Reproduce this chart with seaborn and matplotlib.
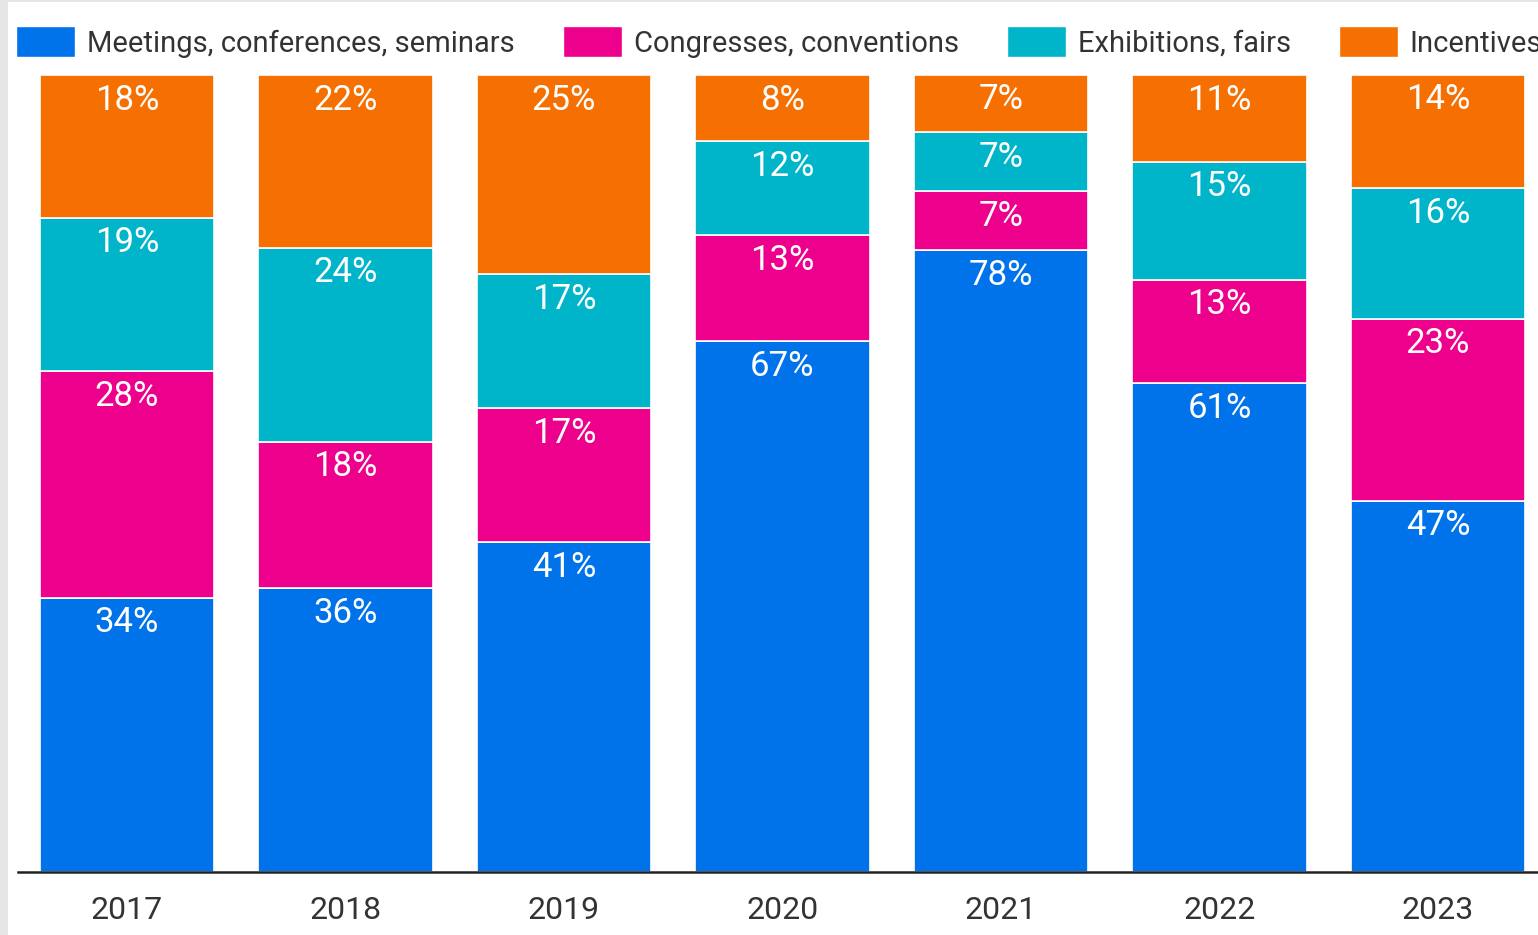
import matplotlib
matplotlib.use("Agg")
import matplotlib.pyplot as plt
from matplotlib.patches import Rectangle, Patch
import numpy as np
import pandas as pd
import seaborn as sns

years = ["2017", "2018", "2019", "2020", "2021", "2022", "2023"]
# shares of events per year, in percent
meetings = [34.4, 35.6, 41.4, 66.6, 78.0, 61.3, 46.6]
congresses = [28.4, 18.4, 16.8, 13.3, 7.4, 13.0, 22.8]
exhibitions = [19.3, 24.3, 16.8, 11.8, 7.4, 14.8, 16.4]
incentives = [17.9, 21.7, 25.0, 8.3, 7.2, 10.9, 14.2]

series_names = ["Meetings, conferences, seminars", "Congresses, conventions",
                "Exhibitions, fairs", "Incentives"]
series_values = [meetings, congresses, exhibitions, incentives]
series_colors = ["#0073EA", "#EC008C", "#00B5C9", "#F57000"]

sns.set_theme(style="white")
plt.rcParams["font.family"] = ["Roboto", "DejaVu Sans"]

DPI = 100
fig = plt.figure(figsize=(15.38, 9.35), dpi=DPI)
fig.patch.set_facecolor("white")

# light grey frame along the left and top edges
fig.patches.append(Rectangle((0, 0), 8 / 1538, 1, transform=fig.transFigure,
                             facecolor="#E6E6E6", edgecolor="none", zorder=0))
fig.patches.append(Rectangle((0, 1 - 2 / 935), 1, 2 / 935, transform=fig.transFigure,
                             facecolor="#E6E6E6", edgecolor="none", zorder=0))

left_px, right_px, top_px, bottom_px = 17.75, 17.75 + 7 * 218.5, 75, 872
ax = fig.add_axes([left_px / 1538, 1 - bottom_px / 935,
                   (right_px - left_px) / 1538, (bottom_px - top_px) / 935])
ax.set_facecolor("white")

df = pd.DataFrame({"year": years})
bottom = np.zeros(len(years))
for name, vals, color in zip(series_names, series_values, series_colors):
    share = np.array(vals, dtype=float)
    df["share"] = share
    sns.barplot(data=df, x="year", y="share", bottom=bottom, color=color,
                width=0.8, edgecolor="white", linewidth=1.2, ax=ax,
                saturation=1, errorbar=None)
    top = bottom + share
    for i, (v, t) in enumerate(zip(share, top)):
        ax.annotate(f"{v:.0f}%", xy=(i, t), xytext=(0, -25 * 72 / DPI),
                    textcoords="offset points", ha="center", va="center",
                    color="white", fontsize=25, zorder=5)
    bottom = top

ax.set_xlim(-0.5, 6.5)
ax.set_ylim(0, 100)
ax.set_xlabel("")
ax.set_ylabel("")
ax.set_yticks([])
for side in ["left", "right", "top"]:
    ax.spines[side].set_visible(False)
ax.spines["bottom"].set_color("#222222")
ax.spines["bottom"].set_linewidth(1.8)
ax.tick_params(axis="x", length=0, pad=17, labelsize=23, labelcolor="#333333")

handles = [Patch(facecolor=c, edgecolor="white") for c in series_colors]
fig.legend(handles, series_names, loc="center left",
           bbox_to_anchor=(16 / 1538, 1 - 42 / 935), ncol=4, frameon=False,
           fontsize=21, labelcolor="#333333", handlelength=2.02, handleheight=1.25,
           handletextpad=0.41, columnspacing=1.65, borderaxespad=0, borderpad=0)

fig.savefig("out.png", dpi=DPI)
